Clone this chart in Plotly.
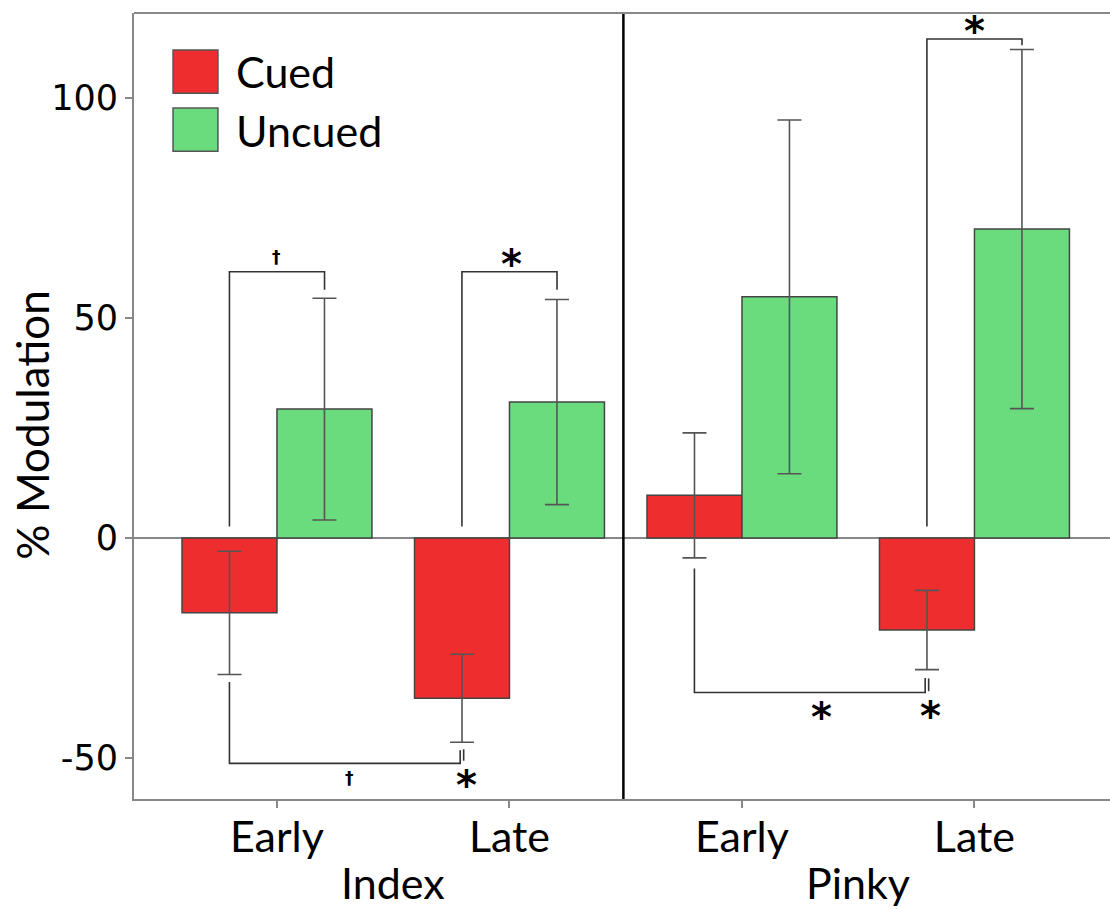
import plotly.graph_objects as go

# ---------------- data ----------------
x_pos = [0, 1, 2, 3]
tick_labels = ["Early", "Late", "Early", "Late"]
groups = ["Index", "Pinky"]
group_pos = [0.5, 2.5]

cued = [-17.0, -36.4, 9.7, -20.9]
cued_err = [14.0, 10.0, 14.2, 9.0]
uncued = [29.3, 30.9, 54.8, 70.2]
uncued_err = [25.2, 23.3, 40.2, 40.8]

# significance brackets (x in category units, y in % modulation)
brackets = [
    ([-0.2045, -0.2045, 0.2045, 0.2045], [2.6, 60.5, 60.5, 56.4]),
    ([0.7955, 0.7955, 1.2045, 1.2045], [2.6, 60.5, 60.5, 56.4]),
    ([-0.2045, -0.2045, 0.788, 0.788], [-32.7, -51.2, -51.2, -48.2]),
    ([0.803, 0.803], [-48.0, -50.6]),
    ([1.7955, 1.7955, 2.788, 2.788], [-6.9, -35.1, -35.1, -31.8]),
    ([2.803, 2.803], [-31.9, -34.8]),
    ([2.7955, 2.7955, 3.2045, 3.2045], [2.6, 113.4, 113.4, 112.0]),
]
sig_text = ["†", "*", "†", "*", "*", "*", "*"]
sig_x = [0.0, 1.01, 0.314, 0.816, 2.34, 2.809, 3.0]
sig_y = [63.8, 63.5, -54.5, -55.0, -39.6, -39.4, 116.3]

RED = "#EE2E2E"
GREEN = "#6ADC7E"
FONT = "Lato"

fig = go.Figure()
fig.add_trace(go.Bar(
    x=x_pos, y=cued, name="Cued", marker=dict(color=RED, line=dict(color="#444", width=1.5)),
    error_y=dict(type="data", array=cued_err, color="#555", thickness=1.6, width=12),
))
fig.add_trace(go.Bar(
    x=x_pos, y=uncued, name="Uncued", marker=dict(color=GREEN, line=dict(color="#444", width=1.5)),
    error_y=dict(type="data", array=uncued_err, color="#555", thickness=1.6, width=12),
))

for bx, by in brackets:
    fig.add_trace(go.Scatter(x=bx, y=by, mode="lines", line=dict(color="#333", width=1.6),
                             hoverinfo="skip", showlegend=False))

for t, sx, sy in zip(sig_text, sig_x, sig_y):
    if t == "*":
        fig.add_annotation(x=sx, y=sy, text="<b>*</b>", showarrow=False, yshift=-5,
                           font=dict(family="DejaVu Sans", size=40, color="black"),
                           xanchor="center", yanchor="middle")
    else:
        fig.add_annotation(x=sx, y=sy, text="<b>†</b>", showarrow=False,
                           font=dict(family="DejaVu Sans", size=17, color="black"),
                           xanchor="center", yanchor="middle")

for g, gx in zip(groups, group_pos):
    fig.add_annotation(x=gx, y=0, yref="paper", yshift=-56, text=g, showarrow=False,
                       font=dict(family=FONT, size=43, color="black"), yanchor="top")

# y-axis title
fig.add_annotation(xref="paper", yref="paper", x=0, xshift=-102, y=0.475, text="% Modulation",
                   textangle=-90, showarrow=False, xanchor="center", yanchor="middle",
                   font=dict(family=FONT, size=44, color="black"))

# divider between panels
fig.add_shape(type="line", x0=1.49, x1=1.49, y0=0, y1=1, yref="paper",
              line=dict(color="black", width=2.5))
# top border
fig.add_shape(type="line", x0=0, x1=1, xref="paper", y0=1, y1=1, yref="paper",
              line=dict(color="#888", width=2))

# legend squares
fig.add_shape(type="rect", xref="paper", yref="paper", x0=0.040, x1=0.086, y0=0.898, y1=0.953,
              fillcolor=RED, line=dict(color="#555", width=1.5))
fig.add_shape(type="rect", xref="paper", yref="paper", x0=0.040, x1=0.086, y0=0.824, y1=0.879,
              fillcolor=GREEN, line=dict(color="#555", width=1.5))
fig.add_annotation(xref="paper", yref="paper", x=0.1025, y=0.926, text="Cued", showarrow=False,
                   xanchor="left", yanchor="middle", font=dict(family=FONT, size=43, color="black"))
fig.add_annotation(xref="paper", yref="paper", x=0.1025, y=0.851, text="Uncued", showarrow=False,
                   xanchor="left", yanchor="middle", font=dict(family=FONT, size=43, color="black"))

fig.update_layout(
    width=1110, height=909,
    margin=dict(l=134, r=0, t=13, b=110),
    paper_bgcolor="white", plot_bgcolor="white",
    barmode="group", bargap=0.183, bargroupgap=0,
    showlegend=False,
    xaxis=dict(range=[-0.615, 3.583], tickvals=x_pos, ticktext=tick_labels,
               ticks="outside", ticklen=7, tickcolor="#888", tickwidth=1.5,
               showline=True, linecolor="#888", linewidth=2, showgrid=False, zeroline=False,
               ticklabelstandoff=-8,
               tickfont=dict(family=FONT, size=43, color="black")),
    yaxis=dict(range=[-59.3, 119.3], tickvals=[-50, 0, 50, 100], ticktext=["-50", "0", "50", "100"],
               ticks="outside", ticklen=7, tickcolor="#888", tickwidth=1.5,
               showline=True, linecolor="#888", linewidth=2, showgrid=False,
               zeroline=True, zerolinecolor="#888", zerolinewidth=1.5,
               tickfont=dict(family="DejaVu Sans", size=35, color="black")),
)

fig.write_html("out.html")
